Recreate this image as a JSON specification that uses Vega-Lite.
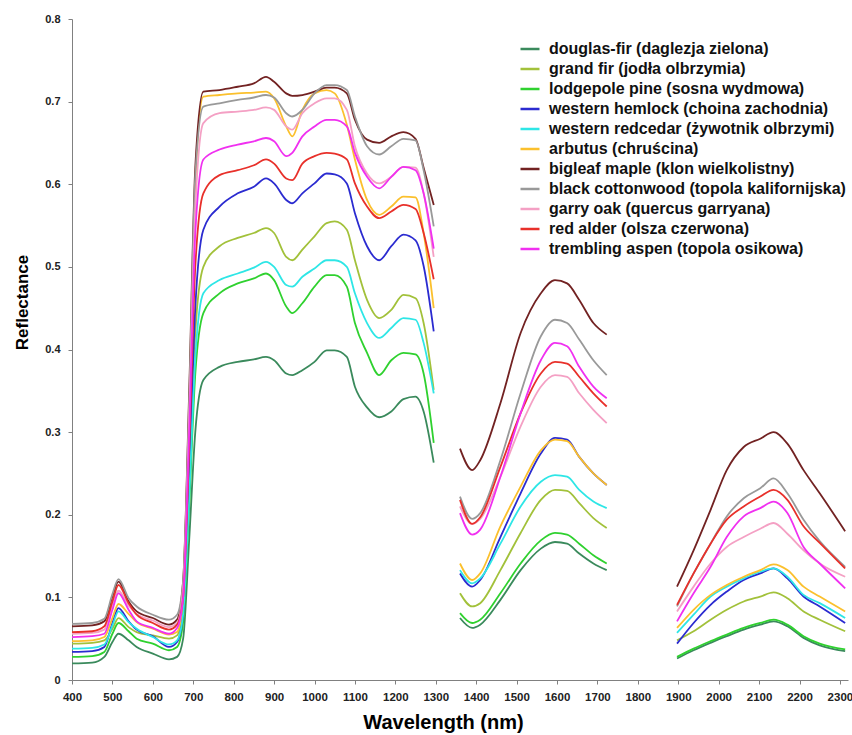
{
"$schema": "https://vega.github.io/schema/vega-lite/v6.json",
"width": 776, "height": 661,
"autosize": "none",
"padding": {"left": 72, "top": 19, "right": 4, "bottom": 55},
"background": "white",
"config": {"view": {"stroke": null}, "font": "Liberation Sans"},
"data": {"values": [
{"s":"df","g":1,"w":400,"r":0.020},{"s":"df","g":1,"w":450,"r":0.021},{"s":"df","g":1,"w":480,"r":0.028},{"s":"df","g":1,"w":500,"r":0.046},{"s":"df","g":1,"w":515,"r":0.056},{"s":"df","g":1,"w":540,"r":0.048},{"s":"df","g":1,"w":560,"r":0.040},{"s":"df","g":1,"w":600,"r":0.032},{"s":"df","g":1,"w":640,"r":0.025},{"s":"df","g":1,"w":660,"r":0.028},{"s":"df","g":1,"w":675,"r":0.05},{"s":"df","g":1,"w":690,"r":0.17},{"s":"df","g":1,"w":705,"r":0.30},{"s":"df","g":1,"w":725,"r":0.363},{"s":"df","g":1,"w":765,"r":0.379},{"s":"df","g":1,"w":810,"r":0.385},{"s":"df","g":1,"w":850,"r":0.388},{"s":"df","g":1,"w":880,"r":0.391},{"s":"df","g":1,"w":900,"r":0.387},{"s":"df","g":1,"w":930,"r":0.371},{"s":"df","g":1,"w":945,"r":0.369},{"s":"df","g":1,"w":970,"r":0.375},{"s":"df","g":1,"w":1000,"r":0.385},{"s":"df","g":1,"w":1030,"r":0.399},{"s":"df","g":1,"w":1050,"r":0.399},{"s":"df","g":1,"w":1080,"r":0.391},{"s":"df","g":1,"w":1100,"r":0.355},{"s":"df","g":1,"w":1130,"r":0.330},{"s":"df","g":1,"w":1160,"r":0.318},{"s":"df","g":1,"w":1190,"r":0.325},{"s":"df","g":1,"w":1220,"r":0.340},{"s":"df","g":1,"w":1250,"r":0.343},{"s":"df","g":1,"w":1270,"r":0.325},{"s":"df","g":1,"w":1295,"r":0.263},
{"s":"df","g":2,"w":1360,"r":0.075},{"s":"df","g":2,"w":1390,"r":0.063},{"s":"df","g":2,"w":1410,"r":0.067},{"s":"df","g":2,"w":1460,"r":0.097},{"s":"df","g":2,"w":1510,"r":0.133},{"s":"df","g":2,"w":1560,"r":0.159},{"s":"df","g":2,"w":1595,"r":0.167},{"s":"df","g":2,"w":1625,"r":0.165},{"s":"df","g":2,"w":1655,"r":0.153},{"s":"df","g":2,"w":1690,"r":0.141},{"s":"df","g":2,"w":1723,"r":0.133},
{"s":"df","g":3,"w":1897,"r":0.026},{"s":"df","g":3,"w":1938,"r":0.036},{"s":"df","g":3,"w":1980,"r":0.045},{"s":"df","g":3,"w":2020,"r":0.053},{"s":"df","g":3,"w":2062,"r":0.061},{"s":"df","g":3,"w":2103,"r":0.067},{"s":"df","g":3,"w":2136,"r":0.071},{"s":"df","g":3,"w":2170,"r":0.065},{"s":"df","g":3,"w":2210,"r":0.051},{"s":"df","g":3,"w":2250,"r":0.042},{"s":"df","g":3,"w":2313,"r":0.035},

{"s":"gf","g":1,"w":400,"r":0.044},{"s":"gf","g":1,"w":450,"r":0.045},{"s":"gf","g":1,"w":480,"r":0.048},{"s":"gf","g":1,"w":500,"r":0.062},{"s":"gf","g":1,"w":515,"r":0.075},{"s":"gf","g":1,"w":540,"r":0.064},{"s":"gf","g":1,"w":560,"r":0.058},{"s":"gf","g":1,"w":600,"r":0.054},{"s":"gf","g":1,"w":640,"r":0.050},{"s":"gf","g":1,"w":660,"r":0.054},{"s":"gf","g":1,"w":675,"r":0.09},{"s":"gf","g":1,"w":690,"r":0.24},{"s":"gf","g":1,"w":705,"r":0.42},{"s":"gf","g":1,"w":725,"r":0.500},{"s":"gf","g":1,"w":765,"r":0.525},{"s":"gf","g":1,"w":810,"r":0.535},{"s":"gf","g":1,"w":850,"r":0.541},{"s":"gf","g":1,"w":880,"r":0.547},{"s":"gf","g":1,"w":900,"r":0.541},{"s":"gf","g":1,"w":930,"r":0.512},{"s":"gf","g":1,"w":945,"r":0.508},{"s":"gf","g":1,"w":970,"r":0.521},{"s":"gf","g":1,"w":1000,"r":0.537},{"s":"gf","g":1,"w":1030,"r":0.553},{"s":"gf","g":1,"w":1050,"r":0.555},{"s":"gf","g":1,"w":1080,"r":0.545},{"s":"gf","g":1,"w":1100,"r":0.508},{"s":"gf","g":1,"w":1130,"r":0.460},{"s":"gf","g":1,"w":1160,"r":0.438},{"s":"gf","g":1,"w":1190,"r":0.448},{"s":"gf","g":1,"w":1220,"r":0.466},{"s":"gf","g":1,"w":1250,"r":0.462},{"s":"gf","g":1,"w":1270,"r":0.432},{"s":"gf","g":1,"w":1295,"r":0.351},
{"s":"gf","g":2,"w":1360,"r":0.105},{"s":"gf","g":2,"w":1390,"r":0.089},{"s":"gf","g":2,"w":1410,"r":0.093},{"s":"gf","g":2,"w":1460,"r":0.133},{"s":"gf","g":2,"w":1510,"r":0.178},{"s":"gf","g":2,"w":1560,"r":0.218},{"s":"gf","g":2,"w":1595,"r":0.230},{"s":"gf","g":2,"w":1625,"r":0.229},{"s":"gf","g":2,"w":1655,"r":0.214},{"s":"gf","g":2,"w":1690,"r":0.196},{"s":"gf","g":2,"w":1723,"r":0.184},
{"s":"gf","g":3,"w":1897,"r":0.048},{"s":"gf","g":3,"w":1938,"r":0.059},{"s":"gf","g":3,"w":1980,"r":0.073},{"s":"gf","g":3,"w":2020,"r":0.085},{"s":"gf","g":3,"w":2062,"r":0.095},{"s":"gf","g":3,"w":2103,"r":0.101},{"s":"gf","g":3,"w":2136,"r":0.106},{"s":"gf","g":3,"w":2170,"r":0.099},{"s":"gf","g":3,"w":2210,"r":0.083},{"s":"gf","g":3,"w":2250,"r":0.073},{"s":"gf","g":3,"w":2313,"r":0.059},

{"s":"lp","g":1,"w":400,"r":0.028},{"s":"lp","g":1,"w":450,"r":0.029},{"s":"lp","g":1,"w":480,"r":0.034},{"s":"lp","g":1,"w":500,"r":0.056},{"s":"lp","g":1,"w":515,"r":0.069},{"s":"lp","g":1,"w":540,"r":0.059},{"s":"lp","g":1,"w":560,"r":0.050},{"s":"lp","g":1,"w":600,"r":0.044},{"s":"lp","g":1,"w":640,"r":0.036},{"s":"lp","g":1,"w":660,"r":0.040},{"s":"lp","g":1,"w":675,"r":0.07},{"s":"lp","g":1,"w":690,"r":0.21},{"s":"lp","g":1,"w":705,"r":0.37},{"s":"lp","g":1,"w":725,"r":0.444},{"s":"lp","g":1,"w":765,"r":0.468},{"s":"lp","g":1,"w":810,"r":0.480},{"s":"lp","g":1,"w":850,"r":0.486},{"s":"lp","g":1,"w":880,"r":0.492},{"s":"lp","g":1,"w":900,"r":0.484},{"s":"lp","g":1,"w":930,"r":0.452},{"s":"lp","g":1,"w":945,"r":0.444},{"s":"lp","g":1,"w":970,"r":0.456},{"s":"lp","g":1,"w":1000,"r":0.476},{"s":"lp","g":1,"w":1030,"r":0.490},{"s":"lp","g":1,"w":1050,"r":0.490},{"s":"lp","g":1,"w":1080,"r":0.476},{"s":"lp","g":1,"w":1100,"r":0.432},{"s":"lp","g":1,"w":1130,"r":0.396},{"s":"lp","g":1,"w":1160,"r":0.369},{"s":"lp","g":1,"w":1190,"r":0.387},{"s":"lp","g":1,"w":1220,"r":0.396},{"s":"lp","g":1,"w":1250,"r":0.394},{"s":"lp","g":1,"w":1270,"r":0.371},{"s":"lp","g":1,"w":1295,"r":0.287},
{"s":"lp","g":2,"w":1360,"r":0.081},{"s":"lp","g":2,"w":1390,"r":0.069},{"s":"lp","g":2,"w":1410,"r":0.073},{"s":"lp","g":2,"w":1460,"r":0.105},{"s":"lp","g":2,"w":1510,"r":0.141},{"s":"lp","g":2,"w":1560,"r":0.169},{"s":"lp","g":2,"w":1595,"r":0.178},{"s":"lp","g":2,"w":1625,"r":0.176},{"s":"lp","g":2,"w":1655,"r":0.165},{"s":"lp","g":2,"w":1690,"r":0.151},{"s":"lp","g":2,"w":1723,"r":0.141},
{"s":"lp","g":3,"w":1897,"r":0.028},{"s":"lp","g":3,"w":1938,"r":0.038},{"s":"lp","g":3,"w":1980,"r":0.047},{"s":"lp","g":3,"w":2020,"r":0.055},{"s":"lp","g":3,"w":2062,"r":0.063},{"s":"lp","g":3,"w":2103,"r":0.069},{"s":"lp","g":3,"w":2136,"r":0.073},{"s":"lp","g":3,"w":2170,"r":0.067},{"s":"lp","g":3,"w":2210,"r":0.053},{"s":"lp","g":3,"w":2250,"r":0.044},{"s":"lp","g":3,"w":2313,"r":0.037},

{"s":"wh","g":1,"w":400,"r":0.034},{"s":"wh","g":1,"w":450,"r":0.035},{"s":"wh","g":1,"w":480,"r":0.040},{"s":"wh","g":1,"w":500,"r":0.069},{"s":"wh","g":1,"w":515,"r":0.087},{"s":"wh","g":1,"w":540,"r":0.071},{"s":"wh","g":1,"w":560,"r":0.061},{"s":"wh","g":1,"w":600,"r":0.053},{"s":"wh","g":1,"w":640,"r":0.040},{"s":"wh","g":1,"w":660,"r":0.046},{"s":"wh","g":1,"w":675,"r":0.08},{"s":"wh","g":1,"w":690,"r":0.25},{"s":"wh","g":1,"w":705,"r":0.45},{"s":"wh","g":1,"w":725,"r":0.545},{"s":"wh","g":1,"w":765,"r":0.573},{"s":"wh","g":1,"w":810,"r":0.589},{"s":"wh","g":1,"w":850,"r":0.597},{"s":"wh","g":1,"w":880,"r":0.607},{"s":"wh","g":1,"w":900,"r":0.601},{"s":"wh","g":1,"w":930,"r":0.581},{"s":"wh","g":1,"w":945,"r":0.577},{"s":"wh","g":1,"w":970,"r":0.589},{"s":"wh","g":1,"w":1000,"r":0.601},{"s":"wh","g":1,"w":1030,"r":0.613},{"s":"wh","g":1,"w":1050,"r":0.612},{"s":"wh","g":1,"w":1080,"r":0.601},{"s":"wh","g":1,"w":1100,"r":0.565},{"s":"wh","g":1,"w":1130,"r":0.525},{"s":"wh","g":1,"w":1160,"r":0.508},{"s":"wh","g":1,"w":1190,"r":0.525},{"s":"wh","g":1,"w":1220,"r":0.539},{"s":"wh","g":1,"w":1250,"r":0.532},{"s":"wh","g":1,"w":1270,"r":0.501},{"s":"wh","g":1,"w":1295,"r":0.422},
{"s":"wh","g":2,"w":1360,"r":0.129},{"s":"wh","g":2,"w":1390,"r":0.113},{"s":"wh","g":2,"w":1410,"r":0.121},{"s":"wh","g":2,"w":1460,"r":0.173},{"s":"wh","g":2,"w":1510,"r":0.226},{"s":"wh","g":2,"w":1560,"r":0.274},{"s":"wh","g":2,"w":1595,"r":0.293},{"s":"wh","g":2,"w":1625,"r":0.291},{"s":"wh","g":2,"w":1655,"r":0.270},{"s":"wh","g":2,"w":1690,"r":0.250},{"s":"wh","g":2,"w":1723,"r":0.236},
{"s":"wh","g":3,"w":1897,"r":0.044},{"s":"wh","g":3,"w":1938,"r":0.069},{"s":"wh","g":3,"w":1980,"r":0.091},{"s":"wh","g":3,"w":2020,"r":0.107},{"s":"wh","g":3,"w":2062,"r":0.121},{"s":"wh","g":3,"w":2103,"r":0.129},{"s":"wh","g":3,"w":2136,"r":0.135},{"s":"wh","g":3,"w":2170,"r":0.123},{"s":"wh","g":3,"w":2210,"r":0.101},{"s":"wh","g":3,"w":2250,"r":0.089},{"s":"wh","g":3,"w":2313,"r":0.069},

{"s":"wr","g":1,"w":400,"r":0.038},{"s":"wr","g":1,"w":450,"r":0.039},{"s":"wr","g":1,"w":480,"r":0.043},{"s":"wr","g":1,"w":500,"r":0.066},{"s":"wr","g":1,"w":515,"r":0.083},{"s":"wr","g":1,"w":540,"r":0.070},{"s":"wr","g":1,"w":560,"r":0.062},{"s":"wr","g":1,"w":600,"r":0.052},{"s":"wr","g":1,"w":640,"r":0.043},{"s":"wr","g":1,"w":660,"r":0.048},{"s":"wr","g":1,"w":675,"r":0.08},{"s":"wr","g":1,"w":690,"r":0.22},{"s":"wr","g":1,"w":705,"r":0.39},{"s":"wr","g":1,"w":725,"r":0.468},{"s":"wr","g":1,"w":765,"r":0.484},{"s":"wr","g":1,"w":810,"r":0.492},{"s":"wr","g":1,"w":850,"r":0.499},{"s":"wr","g":1,"w":880,"r":0.506},{"s":"wr","g":1,"w":900,"r":0.500},{"s":"wr","g":1,"w":930,"r":0.478},{"s":"wr","g":1,"w":945,"r":0.476},{"s":"wr","g":1,"w":970,"r":0.488},{"s":"wr","g":1,"w":1000,"r":0.498},{"s":"wr","g":1,"w":1030,"r":0.508},{"s":"wr","g":1,"w":1050,"r":0.508},{"s":"wr","g":1,"w":1080,"r":0.500},{"s":"wr","g":1,"w":1100,"r":0.468},{"s":"wr","g":1,"w":1130,"r":0.432},{"s":"wr","g":1,"w":1160,"r":0.414},{"s":"wr","g":1,"w":1190,"r":0.426},{"s":"wr","g":1,"w":1220,"r":0.438},{"s":"wr","g":1,"w":1250,"r":0.436},{"s":"wr","g":1,"w":1270,"r":0.408},{"s":"wr","g":1,"w":1295,"r":0.347},
{"s":"wr","g":2,"w":1360,"r":0.133},{"s":"wr","g":2,"w":1390,"r":0.117},{"s":"wr","g":2,"w":1410,"r":0.123},{"s":"wr","g":2,"w":1460,"r":0.165},{"s":"wr","g":2,"w":1510,"r":0.210},{"s":"wr","g":2,"w":1560,"r":0.240},{"s":"wr","g":2,"w":1595,"r":0.248},{"s":"wr","g":2,"w":1625,"r":0.246},{"s":"wr","g":2,"w":1655,"r":0.230},{"s":"wr","g":2,"w":1690,"r":0.216},{"s":"wr","g":2,"w":1723,"r":0.208},
{"s":"wr","g":3,"w":1897,"r":0.057},{"s":"wr","g":3,"w":1938,"r":0.079},{"s":"wr","g":3,"w":1980,"r":0.101},{"s":"wr","g":3,"w":2020,"r":0.113},{"s":"wr","g":3,"w":2062,"r":0.123},{"s":"wr","g":3,"w":2103,"r":0.131},{"s":"wr","g":3,"w":2136,"r":0.135},{"s":"wr","g":3,"w":2170,"r":0.125},{"s":"wr","g":3,"w":2210,"r":0.103},{"s":"wr","g":3,"w":2250,"r":0.093},{"s":"wr","g":3,"w":2313,"r":0.075},

{"s":"ar","g":1,"w":400,"r":0.047},{"s":"ar","g":1,"w":450,"r":0.048},{"s":"ar","g":1,"w":480,"r":0.052},{"s":"ar","g":1,"w":500,"r":0.075},{"s":"ar","g":1,"w":515,"r":0.092},{"s":"ar","g":1,"w":540,"r":0.080},{"s":"ar","g":1,"w":560,"r":0.070},{"s":"ar","g":1,"w":600,"r":0.062},{"s":"ar","g":1,"w":640,"r":0.055},{"s":"ar","g":1,"w":660,"r":0.058},{"s":"ar","g":1,"w":675,"r":0.10},{"s":"ar","g":1,"w":690,"r":0.33},{"s":"ar","g":1,"w":705,"r":0.60},{"s":"ar","g":1,"w":725,"r":0.706},{"s":"ar","g":1,"w":765,"r":0.708},{"s":"ar","g":1,"w":810,"r":0.710},{"s":"ar","g":1,"w":850,"r":0.711},{"s":"ar","g":1,"w":880,"r":0.712},{"s":"ar","g":1,"w":900,"r":0.704},{"s":"ar","g":1,"w":930,"r":0.670},{"s":"ar","g":1,"w":945,"r":0.658},{"s":"ar","g":1,"w":970,"r":0.690},{"s":"ar","g":1,"w":1000,"r":0.710},{"s":"ar","g":1,"w":1030,"r":0.714},{"s":"ar","g":1,"w":1050,"r":0.710},{"s":"ar","g":1,"w":1080,"r":0.672},{"s":"ar","g":1,"w":1100,"r":0.630},{"s":"ar","g":1,"w":1130,"r":0.581},{"s":"ar","g":1,"w":1160,"r":0.563},{"s":"ar","g":1,"w":1190,"r":0.573},{"s":"ar","g":1,"w":1220,"r":0.585},{"s":"ar","g":1,"w":1250,"r":0.584},{"s":"ar","g":1,"w":1270,"r":0.541},{"s":"ar","g":1,"w":1295,"r":0.450},
{"s":"ar","g":2,"w":1360,"r":0.141},{"s":"ar","g":2,"w":1390,"r":0.121},{"s":"ar","g":2,"w":1410,"r":0.129},{"s":"ar","g":2,"w":1460,"r":0.186},{"s":"ar","g":2,"w":1510,"r":0.234},{"s":"ar","g":2,"w":1560,"r":0.278},{"s":"ar","g":2,"w":1595,"r":0.291},{"s":"ar","g":2,"w":1625,"r":0.289},{"s":"ar","g":2,"w":1655,"r":0.270},{"s":"ar","g":2,"w":1690,"r":0.250},{"s":"ar","g":2,"w":1723,"r":0.236},
{"s":"ar","g":3,"w":1897,"r":0.063},{"s":"ar","g":3,"w":1938,"r":0.085},{"s":"ar","g":3,"w":1980,"r":0.103},{"s":"ar","g":3,"w":2020,"r":0.115},{"s":"ar","g":3,"w":2062,"r":0.125},{"s":"ar","g":3,"w":2103,"r":0.133},{"s":"ar","g":3,"w":2136,"r":0.140},{"s":"ar","g":3,"w":2170,"r":0.133},{"s":"ar","g":3,"w":2210,"r":0.113},{"s":"ar","g":3,"w":2250,"r":0.101},{"s":"ar","g":3,"w":2313,"r":0.083},

{"s":"bm","g":1,"w":400,"r":0.065},{"s":"bm","g":1,"w":450,"r":0.066},{"s":"bm","g":1,"w":480,"r":0.071},{"s":"bm","g":1,"w":500,"r":0.101},{"s":"bm","g":1,"w":515,"r":0.119},{"s":"bm","g":1,"w":540,"r":0.095},{"s":"bm","g":1,"w":560,"r":0.083},{"s":"bm","g":1,"w":600,"r":0.075},{"s":"bm","g":1,"w":640,"r":0.067},{"s":"bm","g":1,"w":660,"r":0.073},{"s":"bm","g":1,"w":675,"r":0.12},{"s":"bm","g":1,"w":690,"r":0.35},{"s":"bm","g":1,"w":705,"r":0.62},{"s":"bm","g":1,"w":725,"r":0.712},{"s":"bm","g":1,"w":765,"r":0.714},{"s":"bm","g":1,"w":810,"r":0.718},{"s":"bm","g":1,"w":850,"r":0.722},{"s":"bm","g":1,"w":880,"r":0.730},{"s":"bm","g":1,"w":900,"r":0.724},{"s":"bm","g":1,"w":930,"r":0.710},{"s":"bm","g":1,"w":945,"r":0.707},{"s":"bm","g":1,"w":970,"r":0.708},{"s":"bm","g":1,"w":1000,"r":0.712},{"s":"bm","g":1,"w":1030,"r":0.717},{"s":"bm","g":1,"w":1050,"r":0.717},{"s":"bm","g":1,"w":1080,"r":0.710},{"s":"bm","g":1,"w":1100,"r":0.678},{"s":"bm","g":1,"w":1130,"r":0.654},{"s":"bm","g":1,"w":1160,"r":0.650},{"s":"bm","g":1,"w":1190,"r":0.658},{"s":"bm","g":1,"w":1220,"r":0.663},{"s":"bm","g":1,"w":1250,"r":0.655},{"s":"bm","g":1,"w":1270,"r":0.620},{"s":"bm","g":1,"w":1295,"r":0.575},
{"s":"bm","g":2,"w":1360,"r":0.280},{"s":"bm","g":2,"w":1390,"r":0.254},{"s":"bm","g":2,"w":1410,"r":0.266},{"s":"bm","g":2,"w":1460,"r":0.335},{"s":"bm","g":2,"w":1510,"r":0.420},{"s":"bm","g":2,"w":1560,"r":0.468},{"s":"bm","g":2,"w":1595,"r":0.484},{"s":"bm","g":2,"w":1625,"r":0.480},{"s":"bm","g":2,"w":1655,"r":0.460},{"s":"bm","g":2,"w":1690,"r":0.432},{"s":"bm","g":2,"w":1723,"r":0.418},
{"s":"bm","g":3,"w":1897,"r":0.113},{"s":"bm","g":3,"w":1938,"r":0.157},{"s":"bm","g":3,"w":1980,"r":0.206},{"s":"bm","g":3,"w":2020,"r":0.254},{"s":"bm","g":3,"w":2062,"r":0.282},{"s":"bm","g":3,"w":2103,"r":0.292},{"s":"bm","g":3,"w":2136,"r":0.300},{"s":"bm","g":3,"w":2170,"r":0.286},{"s":"bm","g":3,"w":2210,"r":0.254},{"s":"bm","g":3,"w":2250,"r":0.226},{"s":"bm","g":3,"w":2313,"r":0.180},

{"s":"bc","g":1,"w":400,"r":0.068},{"s":"bc","g":1,"w":450,"r":0.069},{"s":"bc","g":1,"w":480,"r":0.074},{"s":"bc","g":1,"w":500,"r":0.104},{"s":"bc","g":1,"w":515,"r":0.122},{"s":"bc","g":1,"w":540,"r":0.099},{"s":"bc","g":1,"w":560,"r":0.089},{"s":"bc","g":1,"w":600,"r":0.079},{"s":"bc","g":1,"w":640,"r":0.073},{"s":"bc","g":1,"w":660,"r":0.079},{"s":"bc","g":1,"w":675,"r":0.12},{"s":"bc","g":1,"w":690,"r":0.34},{"s":"bc","g":1,"w":705,"r":0.61},{"s":"bc","g":1,"w":725,"r":0.694},{"s":"bc","g":1,"w":765,"r":0.698},{"s":"bc","g":1,"w":810,"r":0.702},{"s":"bc","g":1,"w":850,"r":0.705},{"s":"bc","g":1,"w":880,"r":0.708},{"s":"bc","g":1,"w":900,"r":0.705},{"s":"bc","g":1,"w":930,"r":0.686},{"s":"bc","g":1,"w":945,"r":0.682},{"s":"bc","g":1,"w":970,"r":0.690},{"s":"bc","g":1,"w":1000,"r":0.710},{"s":"bc","g":1,"w":1030,"r":0.720},{"s":"bc","g":1,"w":1050,"r":0.720},{"s":"bc","g":1,"w":1080,"r":0.714},{"s":"bc","g":1,"w":1100,"r":0.682},{"s":"bc","g":1,"w":1130,"r":0.646},{"s":"bc","g":1,"w":1160,"r":0.636},{"s":"bc","g":1,"w":1190,"r":0.646},{"s":"bc","g":1,"w":1220,"r":0.655},{"s":"bc","g":1,"w":1250,"r":0.653},{"s":"bc","g":1,"w":1270,"r":0.617},{"s":"bc","g":1,"w":1295,"r":0.549},
{"s":"bc","g":2,"w":1360,"r":0.222},{"s":"bc","g":2,"w":1390,"r":0.195},{"s":"bc","g":2,"w":1410,"r":0.202},{"s":"bc","g":2,"w":1460,"r":0.266},{"s":"bc","g":2,"w":1510,"r":0.347},{"s":"bc","g":2,"w":1560,"r":0.416},{"s":"bc","g":2,"w":1595,"r":0.436},{"s":"bc","g":2,"w":1625,"r":0.432},{"s":"bc","g":2,"w":1655,"r":0.412},{"s":"bc","g":2,"w":1690,"r":0.387},{"s":"bc","g":2,"w":1723,"r":0.369},
{"s":"bc","g":3,"w":1897,"r":0.089},{"s":"bc","g":3,"w":1938,"r":0.129},{"s":"bc","g":3,"w":1980,"r":0.165},{"s":"bc","g":3,"w":2020,"r":0.198},{"s":"bc","g":3,"w":2062,"r":0.220},{"s":"bc","g":3,"w":2103,"r":0.232},{"s":"bc","g":3,"w":2136,"r":0.244},{"s":"bc","g":3,"w":2170,"r":0.226},{"s":"bc","g":3,"w":2210,"r":0.194},{"s":"bc","g":3,"w":2250,"r":0.168},{"s":"bc","g":3,"w":2313,"r":0.137},

{"s":"go","g":1,"w":400,"r":0.056},{"s":"go","g":1,"w":450,"r":0.057},{"s":"go","g":1,"w":480,"r":0.061},{"s":"go","g":1,"w":500,"r":0.090},{"s":"go","g":1,"w":515,"r":0.108},{"s":"go","g":1,"w":540,"r":0.090},{"s":"go","g":1,"w":560,"r":0.080},{"s":"go","g":1,"w":600,"r":0.072},{"s":"go","g":1,"w":640,"r":0.064},{"s":"go","g":1,"w":660,"r":0.069},{"s":"go","g":1,"w":675,"r":0.11},{"s":"go","g":1,"w":690,"r":0.32},{"s":"go","g":1,"w":705,"r":0.57},{"s":"go","g":1,"w":725,"r":0.674},{"s":"go","g":1,"w":765,"r":0.686},{"s":"go","g":1,"w":810,"r":0.688},{"s":"go","g":1,"w":850,"r":0.690},{"s":"go","g":1,"w":880,"r":0.693},{"s":"go","g":1,"w":900,"r":0.690},{"s":"go","g":1,"w":930,"r":0.670},{"s":"go","g":1,"w":945,"r":0.666},{"s":"go","g":1,"w":970,"r":0.686},{"s":"go","g":1,"w":1000,"r":0.698},{"s":"go","g":1,"w":1030,"r":0.704},{"s":"go","g":1,"w":1050,"r":0.704},{"s":"go","g":1,"w":1080,"r":0.690},{"s":"go","g":1,"w":1100,"r":0.646},{"s":"go","g":1,"w":1130,"r":0.613},{"s":"go","g":1,"w":1160,"r":0.601},{"s":"go","g":1,"w":1190,"r":0.609},{"s":"go","g":1,"w":1220,"r":0.621},{"s":"go","g":1,"w":1250,"r":0.620},{"s":"go","g":1,"w":1270,"r":0.589},{"s":"go","g":1,"w":1295,"r":0.512},
{"s":"go","g":2,"w":1360,"r":0.210},{"s":"go","g":2,"w":1390,"r":0.189},{"s":"go","g":2,"w":1410,"r":0.195},{"s":"go","g":2,"w":1460,"r":0.246},{"s":"go","g":2,"w":1510,"r":0.307},{"s":"go","g":2,"w":1560,"r":0.355},{"s":"go","g":2,"w":1595,"r":0.369},{"s":"go","g":2,"w":1625,"r":0.367},{"s":"go","g":2,"w":1655,"r":0.347},{"s":"go","g":2,"w":1690,"r":0.327},{"s":"go","g":2,"w":1723,"r":0.311},
{"s":"go","g":3,"w":1897,"r":0.083},{"s":"go","g":3,"w":1938,"r":0.113},{"s":"go","g":3,"w":1980,"r":0.141},{"s":"go","g":3,"w":2020,"r":0.161},{"s":"go","g":3,"w":2062,"r":0.173},{"s":"go","g":3,"w":2103,"r":0.183},{"s":"go","g":3,"w":2136,"r":0.190},{"s":"go","g":3,"w":2170,"r":0.177},{"s":"go","g":3,"w":2210,"r":0.157},{"s":"go","g":3,"w":2250,"r":0.141},{"s":"go","g":3,"w":2313,"r":0.125},

{"s":"ra","g":1,"w":400,"r":0.058},{"s":"ra","g":1,"w":450,"r":0.059},{"s":"ra","g":1,"w":480,"r":0.065},{"s":"ra","g":1,"w":500,"r":0.095},{"s":"ra","g":1,"w":515,"r":0.115},{"s":"ra","g":1,"w":540,"r":0.093},{"s":"ra","g":1,"w":560,"r":0.079},{"s":"ra","g":1,"w":600,"r":0.069},{"s":"ra","g":1,"w":640,"r":0.061},{"s":"ra","g":1,"w":660,"r":0.067},{"s":"ra","g":1,"w":675,"r":0.10},{"s":"ra","g":1,"w":690,"r":0.28},{"s":"ra","g":1,"w":705,"r":0.50},{"s":"ra","g":1,"w":725,"r":0.589},{"s":"ra","g":1,"w":765,"r":0.611},{"s":"ra","g":1,"w":810,"r":0.617},{"s":"ra","g":1,"w":850,"r":0.623},{"s":"ra","g":1,"w":880,"r":0.630},{"s":"ra","g":1,"w":900,"r":0.625},{"s":"ra","g":1,"w":930,"r":0.607},{"s":"ra","g":1,"w":945,"r":0.605},{"s":"ra","g":1,"w":970,"r":0.625},{"s":"ra","g":1,"w":1000,"r":0.634},{"s":"ra","g":1,"w":1030,"r":0.638},{"s":"ra","g":1,"w":1050,"r":0.637},{"s":"ra","g":1,"w":1080,"r":0.630},{"s":"ra","g":1,"w":1100,"r":0.601},{"s":"ra","g":1,"w":1130,"r":0.573},{"s":"ra","g":1,"w":1160,"r":0.559},{"s":"ra","g":1,"w":1190,"r":0.567},{"s":"ra","g":1,"w":1220,"r":0.575},{"s":"ra","g":1,"w":1250,"r":0.570},{"s":"ra","g":1,"w":1270,"r":0.541},{"s":"ra","g":1,"w":1295,"r":0.485},
{"s":"ra","g":2,"w":1360,"r":0.218},{"s":"ra","g":2,"w":1390,"r":0.189},{"s":"ra","g":2,"w":1410,"r":0.197},{"s":"ra","g":2,"w":1460,"r":0.258},{"s":"ra","g":2,"w":1510,"r":0.323},{"s":"ra","g":2,"w":1560,"r":0.371},{"s":"ra","g":2,"w":1595,"r":0.385},{"s":"ra","g":2,"w":1625,"r":0.383},{"s":"ra","g":2,"w":1655,"r":0.367},{"s":"ra","g":2,"w":1690,"r":0.347},{"s":"ra","g":2,"w":1723,"r":0.331},
{"s":"ra","g":3,"w":1897,"r":0.091},{"s":"ra","g":3,"w":1938,"r":0.129},{"s":"ra","g":3,"w":1980,"r":0.165},{"s":"ra","g":3,"w":2020,"r":0.194},{"s":"ra","g":3,"w":2062,"r":0.210},{"s":"ra","g":3,"w":2103,"r":0.222},{"s":"ra","g":3,"w":2136,"r":0.230},{"s":"ra","g":3,"w":2170,"r":0.218},{"s":"ra","g":3,"w":2210,"r":0.186},{"s":"ra","g":3,"w":2250,"r":0.166},{"s":"ra","g":3,"w":2313,"r":0.135},

{"s":"ta","g":1,"w":400,"r":0.052},{"s":"ta","g":1,"w":450,"r":0.053},{"s":"ta","g":1,"w":480,"r":0.056},{"s":"ta","g":1,"w":500,"r":0.085},{"s":"ta","g":1,"w":515,"r":0.105},{"s":"ta","g":1,"w":540,"r":0.085},{"s":"ta","g":1,"w":560,"r":0.071},{"s":"ta","g":1,"w":600,"r":0.063},{"s":"ta","g":1,"w":640,"r":0.056},{"s":"ta","g":1,"w":660,"r":0.063},{"s":"ta","g":1,"w":675,"r":0.10},{"s":"ta","g":1,"w":690,"r":0.30},{"s":"ta","g":1,"w":705,"r":0.54},{"s":"ta","g":1,"w":725,"r":0.630},{"s":"ta","g":1,"w":765,"r":0.642},{"s":"ta","g":1,"w":810,"r":0.648},{"s":"ta","g":1,"w":850,"r":0.652},{"s":"ta","g":1,"w":880,"r":0.656},{"s":"ta","g":1,"w":900,"r":0.652},{"s":"ta","g":1,"w":930,"r":0.634},{"s":"ta","g":1,"w":945,"r":0.638},{"s":"ta","g":1,"w":970,"r":0.658},{"s":"ta","g":1,"w":1000,"r":0.670},{"s":"ta","g":1,"w":1030,"r":0.678},{"s":"ta","g":1,"w":1050,"r":0.678},{"s":"ta","g":1,"w":1080,"r":0.670},{"s":"ta","g":1,"w":1100,"r":0.638},{"s":"ta","g":1,"w":1130,"r":0.609},{"s":"ta","g":1,"w":1160,"r":0.595},{"s":"ta","g":1,"w":1190,"r":0.609},{"s":"ta","g":1,"w":1220,"r":0.621},{"s":"ta","g":1,"w":1250,"r":0.617},{"s":"ta","g":1,"w":1270,"r":0.589},{"s":"ta","g":1,"w":1295,"r":0.522},
{"s":"ta","g":2,"w":1360,"r":0.202},{"s":"ta","g":2,"w":1390,"r":0.176},{"s":"ta","g":2,"w":1410,"r":0.182},{"s":"ta","g":2,"w":1460,"r":0.246},{"s":"ta","g":2,"w":1510,"r":0.323},{"s":"ta","g":2,"w":1560,"r":0.387},{"s":"ta","g":2,"w":1595,"r":0.408},{"s":"ta","g":2,"w":1625,"r":0.404},{"s":"ta","g":2,"w":1655,"r":0.379},{"s":"ta","g":2,"w":1690,"r":0.355},{"s":"ta","g":2,"w":1723,"r":0.341},
{"s":"ta","g":3,"w":1897,"r":0.071},{"s":"ta","g":3,"w":1938,"r":0.105},{"s":"ta","g":3,"w":1980,"r":0.137},{"s":"ta","g":3,"w":2020,"r":0.173},{"s":"ta","g":3,"w":2062,"r":0.198},{"s":"ta","g":3,"w":2103,"r":0.208},{"s":"ta","g":3,"w":2136,"r":0.216},{"s":"ta","g":3,"w":2170,"r":0.202},{"s":"ta","g":3,"w":2210,"r":0.161},{"s":"ta","g":3,"w":2250,"r":0.141},{"s":"ta","g":3,"w":2313,"r":0.111}
]},
"mark": {"type": "line", "strokeWidth": 1.8, "interpolate": "monotone"},
"encoding": {
  "x": {"field": "w", "type": "quantitative",
    "scale": {"domain": [400, 2320], "nice": false, "zero": false},
    "axis": {"values": [400,500,600,700,800,900,1000,1100,1200,1300,1400,1500,1600,1700,1800,1900,2000,2100,2200,2300],
      "format": "d", "title": "Wavelength (nm)", "grid": false,
      "domainColor": "#808080", "tickColor": "#808080", "tickSize": 4,
      "labelFont": "Liberation Sans", "labelFontSize": 11.5, "labelFontWeight": "bold", "labelColor": "#222",
      "labelPadding": 7, "labelFlush": false, "labelOverlap": false,
      "titleFont": "Liberation Sans", "titleFontSize": 20, "titleFontWeight": "bold", "titleColor": "#000",
      "titleX": 371, "titleY": 48, "titleAlign": "center", "titleBaseline": "alphabetic"}},
  "y": {"field": "r", "type": "quantitative",
    "scale": {"domain": [0, 0.8], "nice": false},
    "axis": {"values": [0,0.1,0.2,0.3,0.4,0.5,0.6,0.7,0.8],
      "labelExpr": "datum.value == 0 ? '0' : format(datum.value, '.1f')",
      "title": "Reflectance", "grid": false,
      "domainColor": "#808080", "tickColor": "#808080", "tickSize": 4,
      "labelFont": "Liberation Sans", "labelFontSize": 11, "labelFontWeight": "bold", "labelColor": "#222",
      "labelPadding": 8,
      "titleFont": "Liberation Sans", "titleFontSize": 17, "titleFontWeight": "bold", "titleColor": "#000",
      "titleX": -45, "titleY": 283, "titleAngle": -90, "titleAlign": "center", "titleBaseline": "alphabetic"}},
  "color": {"field": "s", "type": "nominal",
    "scale": {"domain": ["df","gf","lp","wh","wr","ar","bm","bc","go","ra","ta"],
      "range": ["#3a8a5c","#a2c13a","#2fd12f","#2b2bd0","#2ee6e6","#fbc02d","#722222","#999999","#f4a0c4","#e8302a","#f030f0"]},
    "legend": {"orient": "none", "legendX": 447, "legendY": 19, "title": null, "padding": 0,
      "symbolType": "stroke", "symbolSize": 361, "symbolStrokeWidth": 2.5,
      "labelFont": "Liberation Sans", "labelFontSize": 16, "labelFontWeight": "bold", "labelColor": "#111",
      "labelOffset": 8, "rowPadding": 1, "labelLimit": 400,
      "labelExpr": "['douglas-fir (daglezja zielona)','grand fir (jodła olbrzymia)','lodgepole pine (sosna wydmowa)','western hemlock (choina zachodnia)','western redcedar (żywotnik olbrzymi)','arbutus (chruścina)','bigleaf maple (klon wielkolistny)','black cottonwood (topola kalifornijska)','garry oak (quercus garryana)','red alder (olsza czerwona)','trembling aspen (topola osikowa)'][indexof(['df','gf','lp','wh','wr','ar','bm','bc','go','ra','ta'], datum.value)]"}},
  "detail": {"field": "g", "type": "nominal"}
}
}
